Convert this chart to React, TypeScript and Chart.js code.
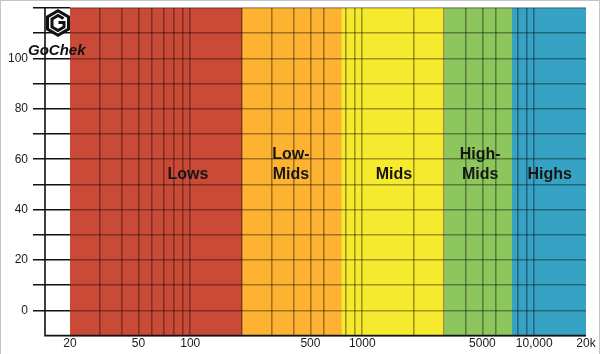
import React, { useEffect, useRef } from "react";
import { Chart, registerables } from "chart.js";

Chart.register(...registerables);

// ---- data ----
const BAND_EDGES = [20, 200, 750, 3000, 7500, 20000];
const BAND_COLORS = ["#ca4a38", "#fdb232", "#f6ea2e", "#8dc65c", "#36a3c5"];
const BAND_LABELS = [["Lows"], ["Low-", "Mids"], ["Mids"], ["High-", "Mids"], ["Highs"]];
const LABEL_FREQS = [97, 385, 1530, 4850, 12300];
const LABEL_Y = 54;
const X_GRID = [20, 30, 40, 50, 60, 70, 80, 90, 100, 200, 300, 400, 500, 600, 750, 800, 900, 1000, 2000, 3000, 4000, 5000, 6000, 7500, 8000, 9000, 10000, 20000];
const X_TICK_LABELS: Record<number, string> = { 20: "20", 50: "50", 100: "100", 500: "500", 1000: "1000", 5000: "5000", 10000: "10,000", 20000: "20k" };
const Y_MIN = -10;
const Y_MAX = 120;
const Y_STEP = 10;
const Y_LABELS = [0, 20, 40, 60, 80, 100];

const FONT = "'Liberation Sans', Arial, sans-serif";
const GRID_DARK = "rgba(0,0,0,0.36)";

export default function App() {
  const ref = useRef<HTMLCanvasElement | null>(null);

  useEffect(() => {
    if (!ref.current) return;
    const datasets = BAND_COLORS.map((c, i) => ({
      label: BAND_LABELS[i].join(""),
      data: [
        { x: BAND_EDGES[i], y: Y_MAX },
        { x: BAND_EDGES[i + 1], y: Y_MAX },
      ],
      backgroundColor: c,
      borderWidth: 0,
      borderColor: c,
      pointRadius: 0,
      fill: "start",
      tension: 0,
    }));

    const bandText = {
      id: "bandText",
      afterDraw(chart: any) {
        const { ctx, scales, chartArea } = chart;
        const xs = scales.x;
        const ys = scales.y;
        ctx.save();
        const axisX = chartArea.left - 25;
        ctx.strokeStyle = "#111";
        ctx.lineWidth = 1.6;
        ctx.beginPath();
        ctx.moveTo(axisX, chartArea.top);
        ctx.lineTo(axisX, chartArea.bottom);
        ctx.lineTo(chartArea.right, chartArea.bottom);
        ctx.stroke();
        ctx.fillStyle = "#161616";
        ctx.font = `bold 16px ${FONT}`;
        ctx.textAlign = "center";
        ctx.textBaseline = "middle";
        BAND_LABELS.forEach((lines, i) => {
          const px = xs.getPixelForValue(LABEL_FREQS[i]);
          const py = ys.getPixelForValue(LABEL_Y);
          lines.forEach((t, j) => {
            const off = (j - (lines.length - 1)) * 20;
            ctx.fillText(t, px, py + off);
          });
        });
        ctx.restore();
      },
    };

    const xGridColor = (ctx: any) => {
      const v = ctx.tick ? ctx.tick.value : 0;
      if (v === BAND_EDGES[0] || v === BAND_EDGES[BAND_EDGES.length - 1]) return "rgba(0,0,0,0)";
      if (v === BAND_EDGES[2]) return BAND_COLORS[1];
      if (v === BAND_EDGES[4]) return BAND_COLORS[4];
      return GRID_DARK;
    };

    const chart = new Chart(ref.current, {
      type: "line",
      data: { datasets: datasets as any },
      plugins: [bandText],
      options: {
        animation: false,
        responsive: true,
        maintainAspectRatio: false,
        layout: { padding: { left: 8, right: 14, top: 8, bottom: 2 } },
        plugins: { legend: { display: false }, tooltip: { enabled: false } },
        scales: {
          x: {
            type: "logarithmic",
            min: BAND_EDGES[0],
            max: BAND_EDGES[BAND_EDGES.length - 1],
            border: { display: false },
            afterBuildTicks: (axis: any) => {
              axis.ticks = X_GRID.map((v) => ({ value: v }));
            },
            grid: {
              z: 1,
              drawTicks: false,
              lineWidth: 1.6,
              color: xGridColor,
            },
            ticks: {
              autoSkip: false,
              maxRotation: 0,
              minRotation: 0,
              padding: 1,
              color: "#1a1a1a",
              font: { family: FONT, size: 12 },
              callback: (v: any) => X_TICK_LABELS[Number(v)] ?? "",
            },
          },
          y: {
            type: "linear",
            min: Y_MIN,
            max: Y_MAX,
            border: { display: false },
            afterFit: (s: any) => {
              s.width = 62;
              s.paddingTop = 0;
              s.paddingBottom = 0;
            },
            grid: {
              z: 1,
              tickLength: 37,
              lineWidth: 1.6,
              tickWidth: 1.5,
              color: GRID_DARK,
              tickColor: (ctx: any) => (ctx.tick && ctx.tick.value === Y_MIN ? "rgba(0,0,0,0)" : "#111"),
            },
            ticks: {
              stepSize: Y_STEP,
              padding: 5,
              color: "#1a1a1a",
              font: { family: FONT, size: 12 },
              callback: (v: any) => (Y_LABELS.includes(Number(v)) ? String(v) : ""),
            },
          },
        },
      },
    });
    return () => chart.destroy();
  }, []);

  return (
    <div style={{ position: "fixed", left: 0, top: 0, width: 600, height: 354, background: "#fff" }}>
      <canvas ref={ref} />
      <svg width={26} height={28} viewBox="0 0 26 28" style={{ position: "absolute", left: 45, top: 9 }}>
        <polygon points="13,0 25,7 25,21 13,28 1,21 1,7" fill="#111" />
        <polygon points="13,3.5 22,8.8 22,19.2 13,24.5 4,19.2 4,8.8" fill="#fff" />
        <path d="M18.5,9.5 L13,6.5 L7,10 L7,18 L13,21.5 L19,18 L19,13.5 L13.5,13.5" fill="none" stroke="#111" strokeWidth={3} strokeLinejoin="miter" />
      </svg>
      <div
        style={{
          position: "absolute",
          left: 28,
          top: 41,
          font: `italic bold 15px ${FONT}`,
          color: "#111",
          lineHeight: "18px",
          whiteSpace: "nowrap",
        }}
      >
        GoChek
      </div>
      <div
        style={{
          position: "absolute",
          left: 0,
          top: 0,
          width: 598,
          height: 353,
          border: "1px solid #c4c4c4",
          borderRightWidth: 2,
          pointerEvents: "none",
        }}
      />
    </div>
  );
}
